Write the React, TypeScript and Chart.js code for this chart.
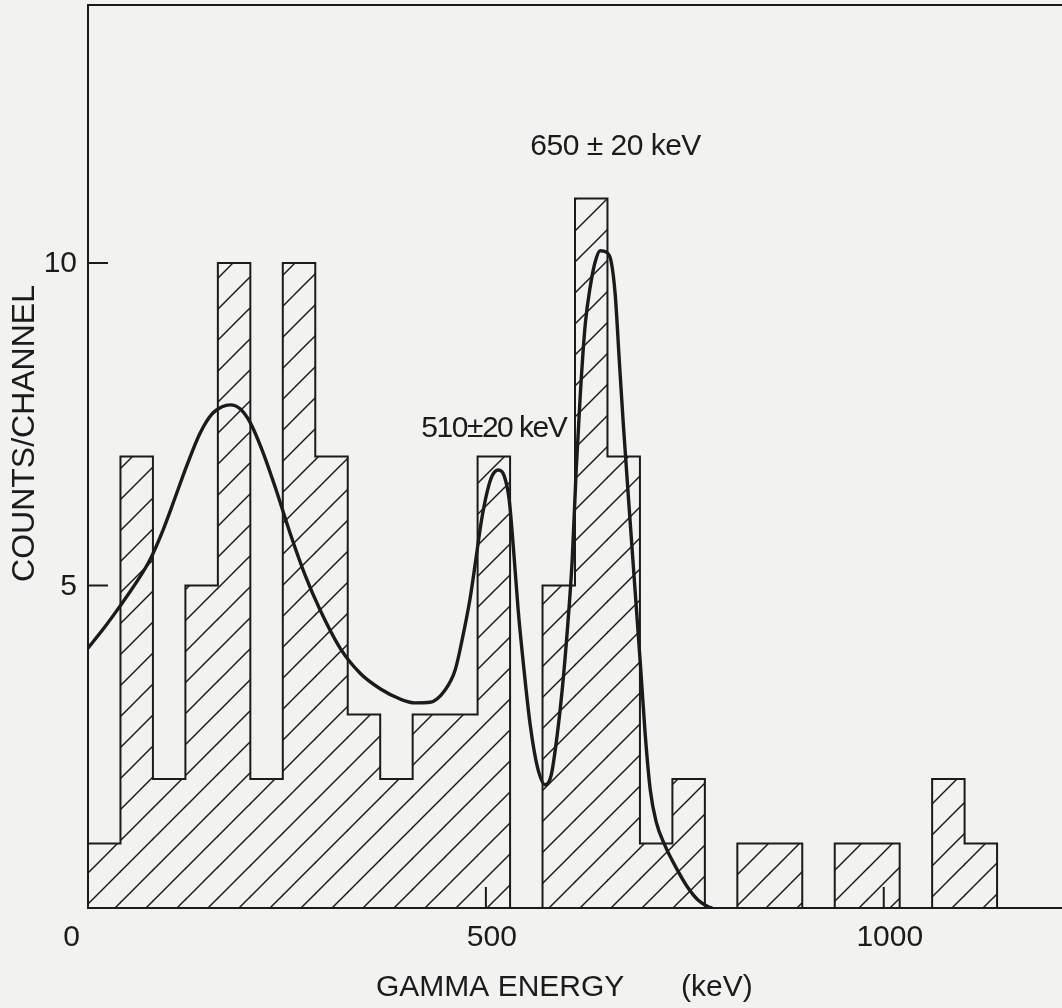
import React, { useEffect, useRef } from "react";
import { Chart, registerables } from "chart.js";

Chart.register(...registerables);

// ---- data ----
const BIN_WIDTH_KEV = 40.8;
const CHANNEL_COUNTS = [1, 7, 2, 5, 10, 2, 10, 7, 3, 2, 3, 3, 7, 0, 5, 11, 7, 1, 2, 0, 1, 1, 0, 1, 1, 0, 2, 1];

const FIT_ENERGY = [
  0, 20.1, 40.2, 60.3, 77.9, 94.3, 109.4, 124.5, 140.8, 155.9, 168.5, 178.5, 191.1, 203.7, 218.8, 235.1, 254,
  272.8, 291.7, 316.8, 342, 367.1, 392.3, 411.1, 430, 448.8, 461.4, 470.2, 480.3, 487.8, 494.1, 501.6, 507.9,
  515.5, 523, 529.3, 534.3, 540.6, 548.2, 555.7, 564.5, 574.6, 582.1, 589.6, 595.9, 602.2, 608.5, 613.5,
  618.6, 624.8, 631.1, 637.4, 643.7, 651.2, 657.5, 662.6, 667.6, 672.6, 681.4, 694, 700.3, 706.6, 714.1,
  725.4, 738, 753.1, 766.9, 779.5, 784.5,
];
const FIT_COUNTS = [
  4.03, 4.34, 4.68, 5.04, 5.4, 5.86, 6.36, 6.87, 7.36, 7.66, 7.77, 7.8, 7.74, 7.53, 7.1, 6.53, 5.81, 5.16,
  4.62, 4.03, 3.64, 3.4, 3.24, 3.18, 3.19, 3.38, 3.69, 4.16, 4.81, 5.44, 5.98, 6.45, 6.7, 6.79, 6.7, 6.33,
  5.63, 4.62, 3.66, 2.84, 2.2, 1.91, 2.06, 2.68, 3.38, 4.28, 5.4, 6.79, 7.95, 9.04, 9.63, 10.02, 10.19,
  10.17, 10.02, 9.5, 8.5, 7.52, 5.97, 3.81, 2.68, 1.83, 1.33, 0.96, 0.65, 0.33, 0.12, 0.02, 0,
];

const X_TICKS = [0, 500, 1000];
const Y_TICKS = [5, 10];
const X_MAX = 1224;
const Y_MAX = 14;

const PEAK_LABELS = ["510\u00B120 keV", "650 \u00B1 20 keV"];
const PEAK_LABEL_ENERGY = [510, 663];
const PEAK_LABEL_COUNTS = [7.43, 11.8];
const PEAK_LABEL_SPACING = [-1.5, -0.5];

const X_TITLE = "GAMMA ENERGY";
const X_UNIT = "(keV)";
const Y_TITLE = "COUNTS/CHANNEL";

const INK = "#1b1b1b";
const PAPER = "#f2f2f0";
const FONT = '"Liberation Sans", Arial, Helvetica, sans-serif';

function makeHatch(): CanvasPattern | string {
  const w = 31;
  const h = 31;
  const c = document.createElement("canvas");
  c.width = w;
  c.height = h;
  const g = c.getContext("2d");
  if (!g) return "rgba(0,0,0,0)";
  g.strokeStyle = INK;
  g.lineWidth = 1.5;
  for (let n = 0; n <= 2; n++) {
    g.beginPath();
    g.moveTo(n * w + w, -h);
    g.lineTo(n * w - 2 * w, 2 * h);
    g.stroke();
  }
  return g.createPattern(c, "repeat") || INK;
}

const decorPlugin = {
  id: "decor",
  beforeDraw(chart: any) {
    const ctx = chart.ctx;
    ctx.save();
    ctx.fillStyle = PAPER;
    ctx.fillRect(0, 0, chart.width, chart.height);
    ctx.restore();
  },
  afterDraw(chart: any) {
    const ctx = chart.ctx;
    const { left, right, top, bottom } = chart.chartArea;
    const xs = chart.scales.x;
    const ys = chart.scales.y;
    ctx.save();
    ctx.strokeStyle = INK;
    ctx.lineWidth = 2;
    ctx.lineCap = "square";
    // frame (right side lies outside the picture)
    ctx.beginPath();
    ctx.moveTo(right + 2, top);
    ctx.lineTo(left, top);
    ctx.lineTo(left, bottom);
    ctx.lineTo(right + 2, bottom);
    ctx.stroke();
    // inward ticks
    ctx.beginPath();
    Y_TICKS.forEach((v) => {
      const y = ys.getPixelForValue(v);
      ctx.moveTo(left, y);
      ctx.lineTo(left + 19, y);
    });
    X_TICKS.forEach((v) => {
      if (v === 0) return;
      const x = xs.getPixelForValue(v);
      ctx.moveTo(x, bottom);
      ctx.lineTo(x, bottom - 20);
    });
    ctx.stroke();

    ctx.fillStyle = INK;
    ctx.font = `30px ${FONT}`;
    ctx.textBaseline = "middle";
    // y tick labels
    ctx.textAlign = "right";
    Y_TICKS.forEach((v) => {
      ctx.fillText(String(v), left - 11, ys.getPixelForValue(v) + 1);
    });
    // x tick labels
    X_TICKS.forEach((v) => {
      const x = xs.getPixelForValue(v);
      if (v === 0) {
        ctx.textAlign = "right";
        ctx.fillText(String(v), x - 8, bottom + 30);
      } else {
        ctx.textAlign = "center";
        ctx.fillText(String(v), x + 6, bottom + 30);
      }
    });
    // x title
    ctx.textAlign = "left";
    ctx.fillText(X_TITLE, left + 288, bottom + 80);
    ctx.fillText(X_UNIT, left + 593, bottom + 80);
    // peak labels
    ctx.textAlign = "center";
    PEAK_LABELS.forEach((t, i) => {
      ctx.letterSpacing = `${PEAK_LABEL_SPACING[i]}px`;
      ctx.fillText(t, xs.getPixelForValue(PEAK_LABEL_ENERGY[i]), ys.getPixelForValue(PEAK_LABEL_COUNTS[i]));
    });
    ctx.letterSpacing = "0px";
    // y title
    ctx.save();
    ctx.translate(25, (top + bottom) / 2 - 23);
    ctx.rotate(-Math.PI / 2);
    ctx.font = `32px ${FONT}`;
    ctx.textAlign = "center";
    ctx.fillText(Y_TITLE, 0, 0);
    ctx.restore();
    ctx.restore();
  },
};

export default function App() {
  const ref = useRef<HTMLCanvasElement | null>(null);

  useEffect(() => {
    document.body.style.margin = "0";
    document.body.style.background = PAPER;
    const canvas = ref.current;
    if (!canvas) return;

    const bars = CHANNEL_COUNTS.map((c, i) => ({ x: (i + 0.5) * BIN_WIDTH_KEV, y: c }));
    const outline: { x: number; y: number }[] = [{ x: 0, y: 0 }];
    CHANNEL_COUNTS.forEach((c, i) => outline.push({ x: i * BIN_WIDTH_KEV, y: c }));
    outline.push({ x: CHANNEL_COUNTS.length * BIN_WIDTH_KEV, y: 0 });
    const fit = FIT_ENERGY.map((e, i) => ({ x: e, y: FIT_COUNTS[i] }));

    const chart = new Chart(canvas, {
      type: "bar",
      data: {
        datasets: [
          {
            type: "line",
            data: fit,
            borderColor: INK,
            borderWidth: 3.4,
            pointRadius: 0,
            cubicInterpolationMode: "monotone",
            fill: false,
            borderJoinStyle: "round",
            order: 0,
          } as any,
          {
            type: "line",
            data: outline,
            borderColor: INK,
            borderWidth: 2,
            pointRadius: 0,
            stepped: true,
            fill: false,
            borderJoinStyle: "miter",
            order: 1,
          } as any,
          {
            type: "bar",
            data: bars,
            backgroundColor: makeHatch(),
            borderWidth: 0,
            barPercentage: 1,
            categoryPercentage: 1,
            order: 2,
          } as any,
        ],
      },
      options: {
        responsive: false,
        animation: false,
        devicePixelRatio: 1,
        layout: { padding: { top: 5, left: 0, right: 0, bottom: 0 } },
        plugins: { legend: { display: false }, tooltip: { enabled: false } },
        scales: {
          x: {
            type: "linear",
            min: 0,
            max: X_MAX,
            offset: false,
            grid: { display: false },
            border: { display: false },
            ticks: { display: false },
            afterFit: (s: any) => {
              s.height = 100;
            },
          },
          y: {
            type: "linear",
            min: 0,
            max: Y_MAX,
            grid: { display: false },
            border: { display: false },
            ticks: { display: false },
            afterFit: (s: any) => {
              s.width = 88;
            },
          },
        },
      } as any,
      plugins: [decorPlugin],
    });
    return () => chart.destroy();
  }, []);

  return (
    <div style={{ position: "absolute", left: 0, top: 0, width: 1062, height: 1008, background: PAPER }}>
      <canvas ref={ref} width={1062} height={1008} style={{ display: "block", width: 1062, height: 1008 }} />
    </div>
  );
}
